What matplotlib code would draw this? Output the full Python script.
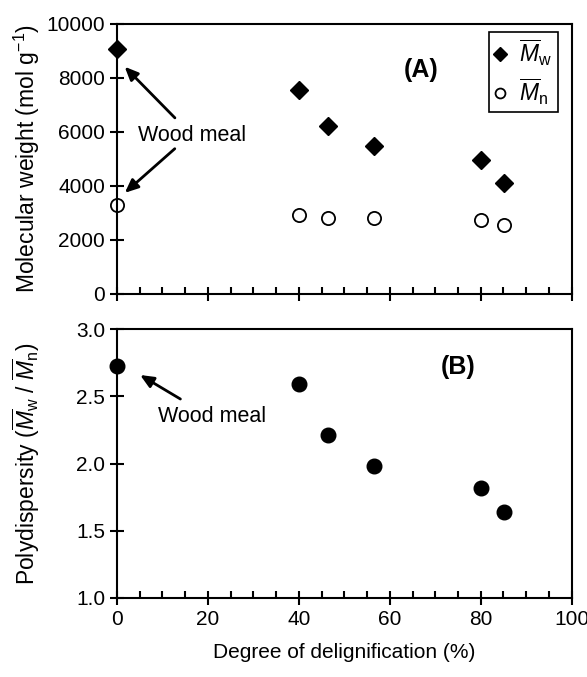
import numpy as np
import matplotlib
matplotlib.use('Agg')
import matplotlib.pyplot as plt
from matplotlib.ticker import MultipleLocator

plt.rcParams['font.family'] = ['Liberation Sans', 'DejaVu Sans']
plt.rcParams['mathtext.fontset'] = 'custom'
plt.rcParams['mathtext.rm'] = 'Liberation Sans'
plt.rcParams['mathtext.it'] = 'Liberation Sans:italic'
plt.rcParams['mathtext.bf'] = 'Liberation Sans:bold'

# degree of delignification (%)
delig = [0, 40, 46.5, 56.5, 80, 85.2]
# molecular weights
mw = [9050, 7550, 6200, 5480, 4950, 4120]
mn = [3300, 2900, 2800, 2800, 2750, 2550]
# polydispersity
pd_vals = [2.73, 2.59, 2.21, 1.98, 1.82, 1.64]

FS = 15
LFS = 16.5

fig = plt.figure(figsize=(5.87, 6.77), dpi=100)
ax1 = fig.add_axes([0.199, 0.566, 0.775, 0.399])
ax2 = fig.add_axes([0.199, 0.1167, 0.775, 0.397])


def style(ax):
    for s in ax.spines.values():
        s.set_linewidth(1.5)
    ax.tick_params(which='major', direction='inout', length=10, width=1.5,
                   labelsize=FS, top=False, right=False)
    ax.tick_params(which='minor', direction='in', length=5, width=1.5,
                   top=False, right=False)
    ax.set_xlim(0, 100)
    ax.xaxis.set_major_locator(MultipleLocator(20))
    ax.xaxis.set_minor_locator(MultipleLocator(5))
    ax.yaxis.set_minor_locator(plt.NullLocator())


# --- (A) ---
style(ax1)
ax1.plot(delig, mw, 'D', color='black', ms=9.5, clip_on=False,
         label=r'$\overline{M}_\mathrm{w}$')
ax1.plot(delig, mn, 'o', mfc='white', mec='black', mew=1.3, ms=9.5,
         clip_on=False, label=r'$\overline{M}_\mathrm{n}$')
ax1.set_ylim(0, 10000)
ax1.yaxis.set_major_locator(MultipleLocator(2000))
ax1.tick_params(labelbottom=False)
ax1.set_ylabel(r'Molecular weight (mol g$^{-1}$)', fontsize=LFS)
ax1.yaxis.set_label_coords(-0.165, 0.5)
ax1.text(67, 8300, '(A)', fontsize=18, fontweight='bold', ha='center', va='center')
leg = ax1.legend(loc='upper right', bbox_to_anchor=(0.97, 0.97), fontsize=16.5,
                 handlelength=0.5, handletextpad=0.6, borderpad=0.25,
                 labelspacing=0.35, fancybox=False, edgecolor='black',
                 framealpha=1, borderaxespad=0, markerscale=0.75)
leg.get_frame().set_linewidth(1.2)
ax1.text(16.5, 5850, 'Wood meal', fontsize=15.5, ha='center', va='center')
arrow = dict(arrowstyle='-|>,head_width=0.35,head_length=0.8', color='black', lw=2)
ax1.annotate('', xy=(1.3, 8480), xytext=(13.2, 6440), arrowprops=arrow)
ax1.annotate('', xy=(1.3, 3670), xytext=(13.2, 5440), arrowprops=arrow)

# --- (B) ---
style(ax2)
ax2.plot(delig, pd_vals, 'o', color='black', ms=10.5, clip_on=False)
ax2.set_ylim(1.0, 3.0)
ax2.yaxis.set_major_locator(MultipleLocator(0.5))
ax2.yaxis.set_major_formatter(matplotlib.ticker.FormatStrFormatter('%.1f'))
ax2.set_ylabel(r'Polydispersity ($\overline{M}_\mathrm{w}$ / $\overline{M}_\mathrm{n}$)',
               fontsize=LFS)
ax2.yaxis.set_label_coords(-0.165, 0.5)
ax2.set_xlabel('Degree of delignification (%)', fontsize=FS, labelpad=10)
ax2.text(75, 2.72, '(B)', fontsize=18, fontweight='bold', ha='center', va='center')
ax2.text(21, 2.35, 'Wood meal', fontsize=15.5, ha='center', va='center')
ax2.annotate('', xy=(4.6, 2.67), xytext=(14.5, 2.47), arrowprops=arrow)

fig.savefig('out.png', dpi=100)
